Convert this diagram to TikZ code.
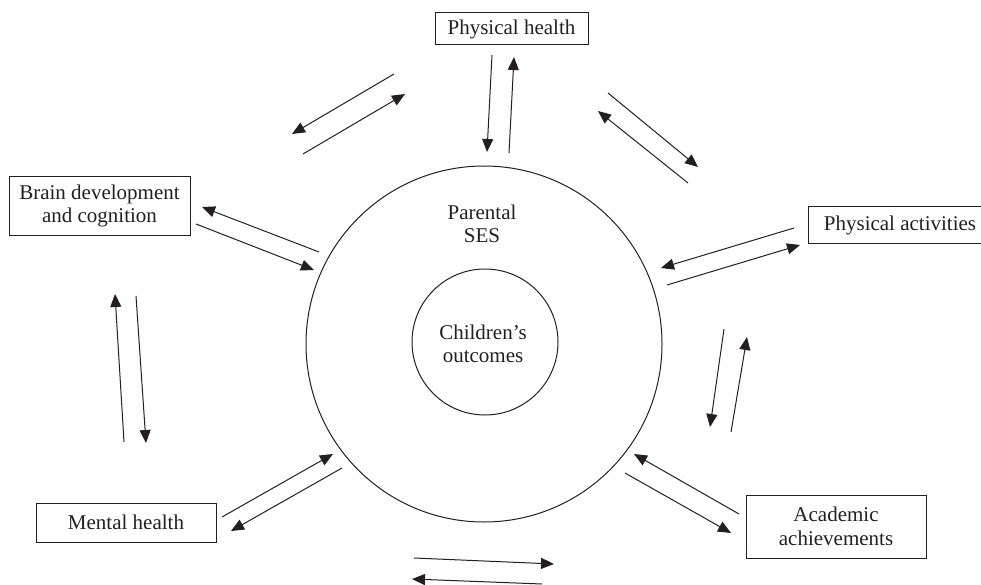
\documentclass[tikz,border=0pt]{standalone}
\usepackage{fontspec}
\setmainfont{Liberation Serif}
\usetikzlibrary{arrows.meta}
\definecolor{ink}{HTML}{231F20}
\begin{document}
\begin{tikzpicture}[x=1pt,y=-1pt,
  every node/.style={font=\fontsize{21}{23.5}\selectfont, text=ink, inner sep=0pt, align=center},
  boxnode/.style={draw=ink, line width=1pt, rectangle},
  ring/.style={draw=ink, line width=1pt, circle},
  conn/.style={draw=ink, line width=1pt, -{Triangle[length=13pt,width=11pt]}}]
\useasboundingbox (0,0) rectangle (981,585);
% circles
\node[ring, minimum size=356pt] (outer) at (484,344) {};
\node[ring, minimum size=146pt] (inner) at (485,342) {};
\node (ses) at (482,224) {Parental\\SES};
\node (child) at (483,344) {Children’s\\outcomes};
% boxes
\node[boxnode, minimum width=153pt, minimum height=32pt] (ph) at (511.5,29) {Physical health};
\node[boxnode, minimum width=181pt, minimum height=58pt] (brain) at (99.5,206) {Brain development\\and cognition};
\node[boxnode, minimum width=184pt, minimum height=36pt] (pa) at (900,225) {Physical activities};
\node[boxnode, minimum width=180pt, minimum height=39pt] (mh) at (126,522.5) {Mental health};
\node[boxnode, minimum width=180pt, minimum height=63pt] (aa) at (836,526.5) {Academic\\achievements};
% arrow end points
\coordinate (a1) at (394,74);  \coordinate (b1) at (292,134);
\coordinate (a2) at (303,154); \coordinate (b2) at (405,94);
\coordinate (a3) at (492,55);  \coordinate (b3) at (487,152);
\coordinate (a4) at (509,153); \coordinate (b4) at (514,57);
\coordinate (a5) at (608,93);  \coordinate (b5) at (698,167);
\coordinate (a6) at (688,183); \coordinate (b6) at (598,111);
\coordinate (a7) at (319,252); \coordinate (b7) at (202,207);
\coordinate (a8) at (196,224); \coordinate (b8) at (314,270);
\coordinate (a9) at (124,442); \coordinate (b9) at (115,294);
\coordinate (a10) at (136,296); \coordinate (b10) at (146,443);
\coordinate (a11) at (794,228); \coordinate (b11) at (661,268);
\coordinate (a12) at (667,285); \coordinate (b12) at (800,245);
\coordinate (a13) at (724,329); \coordinate (b13) at (710,427);
\coordinate (a14) at (731,432); \coordinate (b14) at (747,337);
\coordinate (a15) at (222,517); \coordinate (b15) at (333,454);
\coordinate (a16) at (342,468); \coordinate (b16) at (231,531);
\coordinate (a17) at (739,514); \coordinate (b17) at (634,454);
\coordinate (a18) at (625,473); \coordinate (b18) at (731,533);
\coordinate (a19) at (414,558); \coordinate (b19) at (554,564);
\coordinate (a20) at (542,584); \coordinate (b20) at (412,579);
\foreach \i in {1,...,20} {\draw[conn] (a\i) -- (b\i);}
\end{tikzpicture}
\end{document}
